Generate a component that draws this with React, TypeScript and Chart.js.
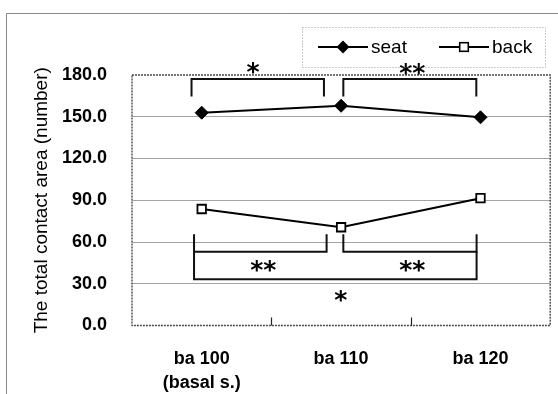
import React, { useEffect, useRef } from 'react';
import { Chart, registerables } from 'chart.js';

Chart.register(...registerables);

// ---- data ----
const categories: (string | string[])[] = [['ba 100', '(basal s.)'], 'ba 110', 'ba 120'];
const seriesLabels = ['seat', 'back'];
const seatValues = [152.9, 157.9, 149.6];
const backValues = [83.7, 70.6, 91.5];
const yTicks = [0, 30, 60, 90, 120, 150, 180];
const yTitle = 'The total contact area (number)';

// significance brackets: x in category index units, y in value units
const bracketX1 = [-0.073, 1.016, -0.055, 1.016, -0.055];
const bracketX2 = [0.877, 1.97, 0.896, 1.972, 1.972];
const bracketBar = [177.1, 177.1, 53.0, 53.0, 33.2];
const bracketEnd = [164.6, 164.6, 65.5, 65.5, 53.0];
const starText = ['*', '**', '**', '**', '*'];
const starX = [0.369, 1.511, 0.442, 1.511, 0.998];
const starY = [185.0, 184.3, 42.75, 42.75, 21.4];

const FONT = "'Liberation Sans', Arial, sans-serif";

function drawMarker(ctx: CanvasRenderingContext2D, style: string, x: number, y: number) {
  ctx.save();
  ctx.lineWidth = 1.6;
  ctx.strokeStyle = '#000';
  if (style === 'diamond') {
    const r = 6.5;
    ctx.beginPath();
    ctx.moveTo(x, y - r);
    ctx.lineTo(x + r, y);
    ctx.lineTo(x, y + r);
    ctx.lineTo(x - r, y);
    ctx.closePath();
    ctx.fillStyle = '#000';
    ctx.fill();
  } else {
    const h = 4.3;
    ctx.fillStyle = '#fff';
    ctx.fillRect(x - h, y - h, 2 * h, 2 * h);
    ctx.strokeRect(x - h, y - h, 2 * h, 2 * h);
  }
  ctx.restore();
}

const decorPlugin = {
  id: 'decor',
  beforeDraw(chart: any) {
    const ctx: CanvasRenderingContext2D = chart.ctx;
    ctx.save();
    ctx.fillStyle = '#fff';
    ctx.fillRect(0, 0, chart.width, chart.height);
    // outer chart frame (cut off at right/bottom)
    ctx.strokeStyle = '#8a8a8a';
    ctx.lineWidth = 1;
    ctx.beginPath();
    ctx.moveTo(6.5, chart.height + 5);
    ctx.lineTo(6.5, 13.5);
    ctx.lineTo(chart.width + 5, 13.5);
    ctx.stroke();
    ctx.restore();
  },
  afterDraw(chart: any) {
    const ctx: CanvasRenderingContext2D = chart.ctx;
    const xs = chart.scales.x;
    const ys = chart.scales.y;
    const a = chart.chartArea;
    ctx.save();
    // plot area border (dotted)
    ctx.strokeStyle = '#4a4a4a';
    ctx.lineWidth = 1.4;
    ctx.setLineDash([2, 1]);
    ctx.strokeRect(a.left, a.top, a.right - a.left, a.bottom - a.top);
    ctx.setLineDash([]);
    // inner tick marks at category boundaries
    ctx.strokeStyle = '#222';
    ctx.lineWidth = 1.2;
    for (let i = 1; i < categories.length; i++) {
      const px = Math.round(xs.getPixelForValue(i - 0.5)) + 0.5;
      ctx.beginPath();
      ctx.moveTo(px, a.bottom);
      ctx.lineTo(px, a.bottom - 8);
      ctx.stroke();
    }
    // significance brackets
    ctx.strokeStyle = '#111';
    ctx.lineWidth = 2;
    for (let i = 0; i < bracketX1.length; i++) {
      const x1 = xs.getPixelForValue(bracketX1[i]);
      const x2 = xs.getPixelForValue(bracketX2[i]);
      const yb = ys.getPixelForValue(bracketBar[i]);
      const ye = ys.getPixelForValue(bracketEnd[i]);
      ctx.beginPath();
      ctx.moveTo(x1, ye);
      ctx.lineTo(x1, yb);
      ctx.lineTo(x2, yb);
      ctx.lineTo(x2, ye);
      ctx.stroke();
    }
    // stars
    ctx.fillStyle = '#000';
    ctx.font = "bold 25px 'DejaVu Sans', sans-serif";
    ctx.textAlign = 'center';
    ctx.textBaseline = 'alphabetic';
    for (let i = 0; i < starText.length; i++) {
      const m = ctx.measureText(starText[i]);
      const cx = xs.getPixelForValue(starX[i]);
      const cy = ys.getPixelForValue(starY[i]);
      const base = cy + (m.actualBoundingBoxAscent - m.actualBoundingBoxDescent) / 2;
      ctx.fillText(starText[i], cx, base);
    }
    // legend
    ctx.strokeStyle = '#9a9a9a';
    ctx.lineWidth = 1;
    ctx.setLineDash([1, 2]);
    ctx.strokeRect(302.5, 27.5, 243, 40);
    ctx.setLineDash([]);
    const legY = 47;
    const legX = [318, 439];
    const markers = ['diamond', 'square'];
    ctx.font = `19px ${FONT}`;
    ctx.textAlign = 'left';
    ctx.textBaseline = 'middle';
    for (let i = 0; i < seriesLabels.length; i++) {
      ctx.strokeStyle = '#000';
      ctx.lineWidth = 2;
      ctx.beginPath();
      ctx.moveTo(legX[i], legY);
      ctx.lineTo(legX[i] + 50, legY);
      ctx.stroke();
      drawMarker(ctx, markers[i], legX[i] + 25, legY);
      ctx.fillStyle = '#000';
      ctx.fillText(seriesLabels[i], legX[i] + 53, legY + 1);
    }
    ctx.restore();
  },
};

export default function App() {
  const ref = useRef<HTMLCanvasElement | null>(null);
  useEffect(() => {
    document.body.style.margin = '0';
    const canvas = ref.current;
    if (!canvas) return;
    const chart = new Chart(canvas, {
      type: 'line',
      data: {
        labels: categories as any,
        datasets: [
          {
            label: seriesLabels[0],
            data: seatValues,
            borderColor: '#000',
            borderWidth: 2,
            pointStyle: 'rectRot',
            pointRadius: 6.5,
            pointBackgroundColor: '#000',
            pointBorderColor: '#000',
            pointBorderWidth: 1,
            tension: 0,
          },
          {
            label: seriesLabels[1],
            data: backValues,
            borderColor: '#000',
            borderWidth: 2,
            pointStyle: 'rect',
            pointRadius: 6,
            pointBackgroundColor: '#fff',
            pointBorderColor: '#000',
            pointBorderWidth: 1.8,
            tension: 0,
          },
        ],
      },
      options: {
        responsive: false,
        animation: false,
        devicePixelRatio: 1,
        layout: { padding: { top: 75, right: 5, left: 0, bottom: 0 } },
        plugins: { legend: { display: false }, tooltip: { enabled: false } },
        scales: {
          x: {
            offset: true,
            grid: { display: false, drawTicks: false },
            border: { display: false },
            ticks: {
              color: '#000',
              font: { family: FONT, size: 18, weight: 'bold', lineHeight: 24 / 18 },
              padding: 21.5,
              maxRotation: 0,
              autoSkip: false,
            },
            afterFit: (s: any) => {
              s.height = 68.5;
            },
          },
          y: {
            min: 0,
            max: 180,
            afterBuildTicks: (s: any) => {
              s.ticks = yTicks.map((v) => ({ value: v }));
            },
            ticks: {
              color: '#000',
              font: { family: FONT, size: 18, weight: 'bold' },
              padding: 25,
              callback: (v: any) => Number(v).toFixed(1),
            },
            grid: {
              drawTicks: false,
              lineWidth: 1,
              color: (c: any) =>
                c.tick && (c.tick.value === 0 || c.tick.value === 180) ? 'rgba(0,0,0,0)' : '#a3a3a3',
            },
            border: { display: false },
            title: {
              display: true,
              text: yTitle,
              color: '#000',
              font: { family: FONT, size: 19 },
              padding: { top: 30.6, bottom: 0 },
            },
            afterFit: (s: any) => {
              s.width = 132;
            },
          },
        },
      },
      plugins: [decorPlugin],
    });
    return () => chart.destroy();
  }, []);
  return <canvas ref={ref} width={558} height={394} style={{ display: 'block' }} />;
}
